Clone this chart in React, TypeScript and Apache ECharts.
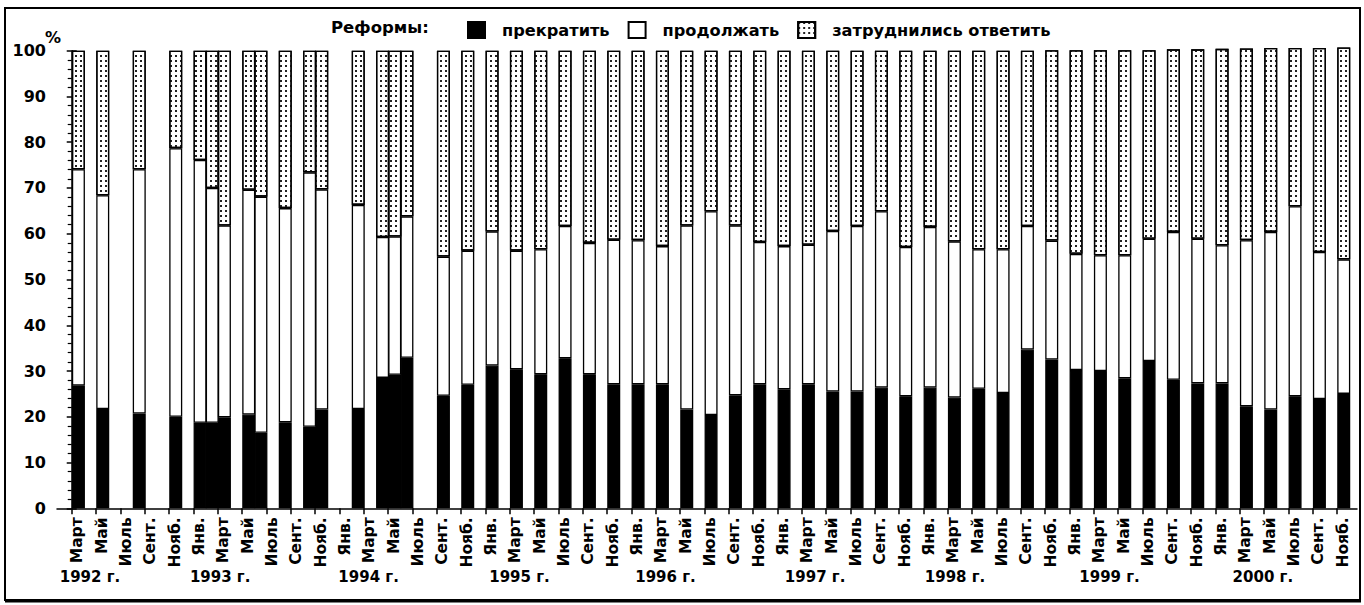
import React, { useEffect, useRef } from 'react';
import * as echarts from 'echarts';

// Survey dates as month index (0 = March 1992)
const surveyMonths = [
  0, 2, 5, 8, 10, 11, 12, 14, 15, 17, 19, 20, 23, 25, 26, 27,
  30, 32, 34, 36, 38, 40, 42, 44, 46, 48, 50, 52, 54, 56, 58, 60,
  62, 64, 66, 68, 70, 72, 74, 76, 78, 80, 82, 84, 86, 88, 90, 92,
  94, 96, 98, 100, 102, 104,
];

// "прекратить" (black)
const stopValues = [
  26.8, 21.7, 20.7, 20.0, 18.7, 18.7, 19.9, 20.5, 16.5, 18.8, 17.8, 21.6, 21.7, 28.5, 29.2, 32.9,
  24.6, 27.0, 31.2, 30.4, 29.3, 32.8, 29.3, 27.1, 27.1, 27.1, 21.6, 20.4, 24.7, 27.1, 26.0, 27.1,
  25.5, 25.5, 26.4, 24.5, 26.4, 24.2, 26.1, 25.2, 34.7, 32.5, 30.2, 30.0, 28.4, 32.2, 28.1, 27.3,
  27.3, 22.3, 21.6, 24.5, 23.9, 25.0,
];

// "продолжать" (white)
const continueValues = [
  47.3, 46.7, 53.4, 58.7, 57.4, 51.3, 41.9, 49.1, 51.6, 46.8, 55.6, 48.1, 44.6, 30.8, 30.2, 30.9,
  30.4, 29.3, 29.3, 25.9, 27.3, 28.9, 28.7, 31.6, 31.5, 30.2, 40.2, 44.5, 37.1, 31.1, 31.3, 30.5,
  35.1, 36.2, 38.5, 32.6, 35.1, 34.1, 30.5, 31.4, 27.0, 26.0, 25.4, 25.3, 26.9, 26.7, 32.3, 31.6,
  30.2, 36.3, 38.8, 41.5, 32.1, 29.4,
];

// "затруднились ответить" (dotted)
const hardValues = [
  25.9, 31.6, 25.9, 21.3, 23.9, 30.0, 38.2, 30.4, 31.9, 34.4, 26.6, 30.3, 33.7, 40.7, 40.6, 36.2,
  45.0, 43.7, 39.5, 43.7, 43.4, 38.3, 42.0, 41.3, 41.4, 42.7, 38.2, 35.1, 38.2, 41.8, 42.7, 42.4,
  39.4, 38.3, 35.1, 42.9, 38.5, 41.7, 43.4, 43.4, 38.3, 41.6, 44.5, 44.8, 44.8, 41.2, 39.9, 41.4,
  42.9, 41.9, 40.2, 34.6, 44.6, 46.3,
];

// Tick labels, one every two months from March 1992 to November 2000
const monthTickLabels = [
  'Март', 'Май', 'Июль', 'Сент.', 'Нояб.',
  'Янв.', 'Март', 'Май', 'Июль', 'Сент.', 'Нояб.',
  'Янв.', 'Март', 'Май', 'Июль', 'Сент.', 'Нояб.',
  'Янв.', 'Март', 'Май', 'Июль', 'Сент.', 'Нояб.',
  'Янв.', 'Март', 'Май', 'Июль', 'Сент.', 'Нояб.',
  'Янв.', 'Март', 'Май', 'Июль', 'Сент.', 'Нояб.',
  'Янв.', 'Март', 'Май', 'Июль', 'Сент.', 'Нояб.',
  'Янв.', 'Март', 'Май', 'Июль', 'Сент.', 'Нояб.',
  'Янв.', 'Март', 'Май', 'Июль', 'Сент.', 'Нояб.',
];

const yearLabels = ['1992 г.', '1993 г.', '1994 г.', '1995 г.', '1996 г.', '1997 г.', '1998 г.', '1999 г.', '2000 г.'];
const yearLabelMonths = [1.5, 12.2, 24.4, 36.8, 48.8, 61.1, 72.6, 85.3, 97.9];

const seriesNames = ['прекратить', 'продолжать', 'затруднились ответить'];

const FONT = 'DejaVu Sans';
const X_MIN = -1.21;
const X_MAX = 105.64;
const BAR_SHIFT = 0.55;
const LABEL_SHIFT = 0.45;

export default function App() {
  const ref = useRef<HTMLDivElement>(null);

  useEffect(() => {
    if (!ref.current) return;
    const chart = echarts.init(ref.current, null, { renderer: 'svg' });

    const tickMonths = monthTickLabels.map((_, i) => i * 2);
    const labelMonths = tickMonths.map((m) => m + LABEL_SHIFT);

    // value first, position second, so that the value dimension is the stacked one
    const mk = (vals: number[]) => vals.map((v, i) => [v, surveyMonths[i] + BAR_SHIFT]);

    const baseBar = {
      type: 'bar',
      stack: 'total',
      barWidth: 13,
      clip: false,
      xAxisIndex: 0,
      yAxisIndex: 0,
      encode: { x: 1, y: 0 },
    };

    const option: any = {
      animation: false,
      backgroundColor: '#fff',
      textStyle: { fontFamily: FONT, color: '#000' },
      title: {
        text: 'Реформы:',
        left: 331,
        top: 19,
        padding: 0,
        textStyle: { fontFamily: FONT, fontSize: 16.5, fontWeight: 'bold', color: '#000' },
      },
      legend: {
        left: 467,
        top: 21,
        padding: 0,
        itemWidth: 17,
        itemHeight: 16,
        itemGap: 18,
        icon: 'rect',
        selectedMode: false,
        data: seriesNames,
        textStyle: {
          fontFamily: FONT,
          fontSize: 16.2,
          fontWeight: 'bold',
          color: '#000',
          padding: [0, 0, 0, 12],
        },
      },
      grid: { left: 57, right: 7, top: 50.7, bottom: 96.7 },
      xAxis: [
        {
          type: 'value',
          min: X_MIN,
          max: X_MAX,
          position: 'bottom',
          axisLine: { show: true, lineStyle: { color: '#000', width: 1.5 } },
          axisTick: {
            show: true,
            customValues: tickMonths,
            length: 6,
            lineStyle: { color: '#000', width: 1.5 },
          },
          axisLabel: {
            customValues: labelMonths,
            rotate: 90,
            margin: 9,
            fontFamily: FONT,
            fontSize: 15.5,
            fontWeight: 'bold',
            color: '#000',
            formatter: (v: number) => monthTickLabels[Math.round((v - LABEL_SHIFT) / 2)] ?? '',
          },
          splitLine: { show: false },
        },
        {
          type: 'value',
          min: X_MIN,
          max: X_MAX,
          position: 'bottom',
          axisLine: { show: false },
          axisTick: { show: false },
          axisLabel: {
            customValues: yearLabelMonths,
            margin: 61,
            fontFamily: FONT,
            fontSize: 15,
            fontWeight: 'bold',
            color: '#000',
            formatter: (v: number) => {
              const i = yearLabelMonths.findIndex((m) => Math.abs(m - v) < 0.01);
              return i >= 0 ? yearLabels[i] : '';
            },
          },
          splitLine: { show: false },
        },
      ],
      yAxis: [
        {
          type: 'value',
          min: 0,
          max: 100,
          interval: 10,
          position: 'left',
          axisLine: { show: true, lineStyle: { color: '#000', width: 1.5 } },
          axisTick: { show: true, length: 5, lineStyle: { color: '#000', width: 1.5 } },
          minorTick: { show: true, splitNumber: 5, length: 4, lineStyle: { color: '#000', width: 1.2 } },
          axisLabel: {
            margin: 11,
            fontFamily: FONT,
            fontSize: 16,
            fontWeight: 'bold',
            color: '#000',
          },
          splitLine: { show: false },
        },
        {
          type: 'value',
          min: 0,
          max: 100,
          interval: 10,
          position: 'left',
          axisLine: { show: false },
          axisTick: { show: true, inside: true, length: 5, lineStyle: { color: '#000', width: 1.5 } },
          axisLabel: { show: false },
          splitLine: { show: false },
        },
      ],
      series: [
        {
          ...baseBar,
          name: seriesNames[0],
          data: mk(stopValues),
          itemStyle: { color: '#000', borderColor: '#000', borderWidth: 1.3 },
        },
        {
          ...baseBar,
          name: seriesNames[1],
          data: mk(continueValues),
          itemStyle: { color: '#fff', borderColor: '#000', borderWidth: 1.3 },
        },
        {
          ...baseBar,
          name: seriesNames[2],
          data: mk(hardValues),
          itemStyle: {
            color: '#fff',
            borderColor: '#000',
            borderWidth: 1.3,
            decal: {
              symbol: 'rect',
              symbolSize: 1,
              symbolKeepAspect: false,
              dashArrayX: [1.3, 2.2],
              dashArrayY: [1.3, 2.8],
              color: '#222',
              backgroundColor: '#fff',
              rotation: 0,
            },
          },
        },
      ],
      graphic: [
        {
          type: 'text',
          silent: true,
          x: 53,
          y: 37,
          style: {
            text: '%',
            fontFamily: FONT,
            fontSize: 16,
            fontWeight: 'bold',
            fill: '#000',
            align: 'center',
            verticalAlign: 'middle',
          },
        },
        {
          type: 'rect',
          silent: true,
          z: 100,
          shape: { x: 5, y: 8, width: 1355, height: 592 },
          style: { fill: 'none', stroke: '#000', lineWidth: 2 },
        },
        {
          type: 'line',
          silent: true,
          z: 100,
          shape: { x1: 5, y1: 601, x2: 1361, y2: 601 },
          style: { stroke: '#000', lineWidth: 3 },
        },
      ],
    };

    chart.setOption(option);
    return () => {
      chart.dispose();
    };
  }, []);

  return (
    <div
      ref={ref}
      style={{ position: 'fixed', left: 0, top: 0, width: 1364, height: 605, background: '#fff' }}
    />
  );
}
